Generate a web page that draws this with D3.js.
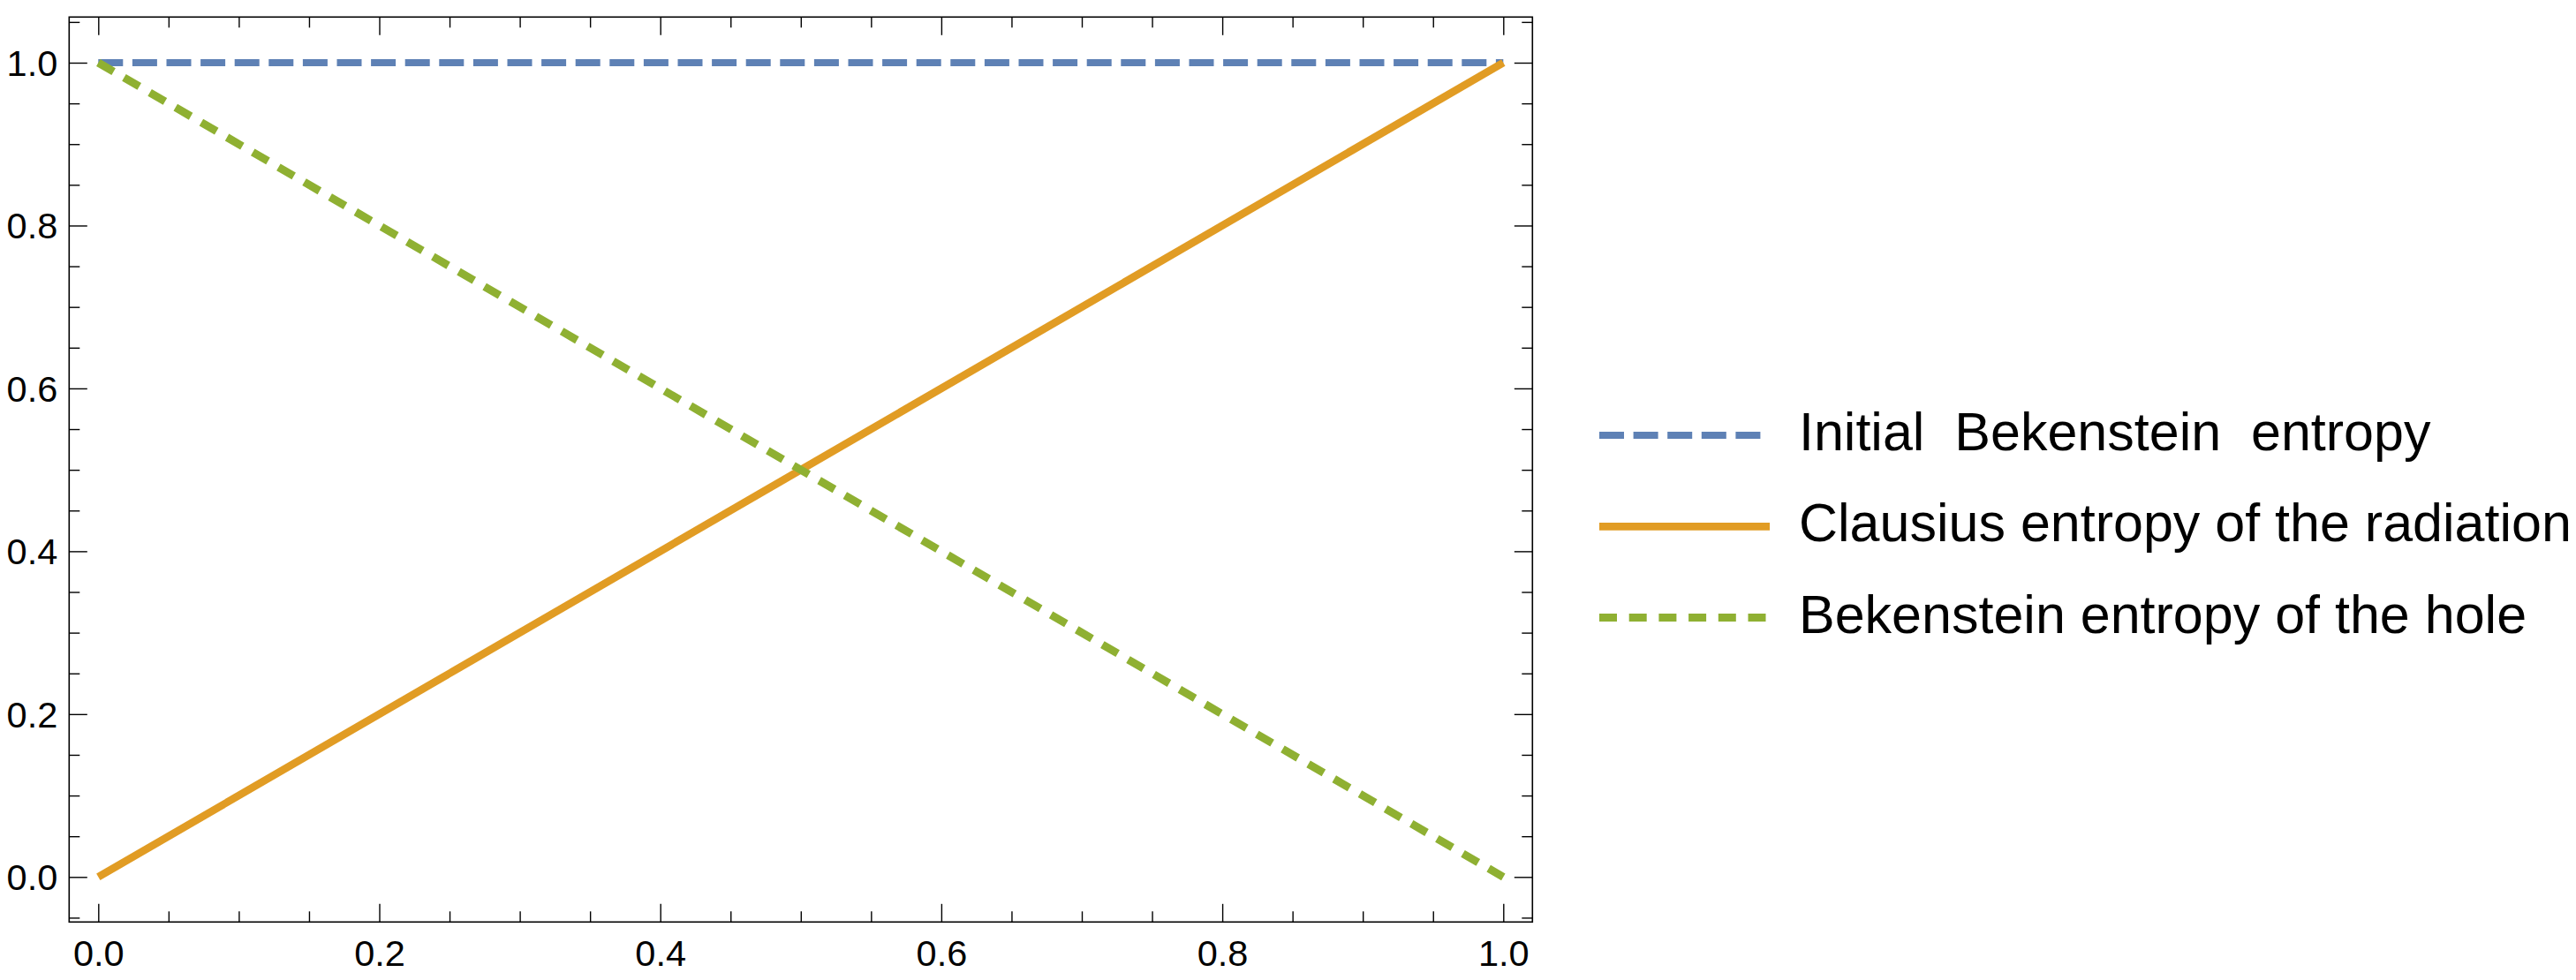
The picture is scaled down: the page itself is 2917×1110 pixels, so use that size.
<!DOCTYPE html>
<html>
<head>
<meta charset="utf-8">
<script src="https://cdn.jsdelivr.net/npm/d3@7"></script>
<style>
  html, body { margin: 0; padding: 0; background: #ffffff; }
  svg { display: block; }
  text { font-family: "Liberation Sans", Arial, sans-serif; fill: #000; }
  .legend-text { white-space: pre; }
</style>
</head>
<body>
<svg id="chart" width="2917" height="1110"></svg>
<script>
// ---- data ----
const xValues = [0, 1];
const initialBekenstein = [1, 1];
const clausiusRadiation = [0, 1];
const bekensteinHole = [1, 0];

const seriesNames = [
  "Initial  Bekenstein  entropy",
  "Clausius entropy of the radiation",
  "Bekenstein entropy of the hole"
];
const seriesColors = ["#5e81b5", "#e19c24", "#8fb032"];

const xTickValues = [0, 0.2, 0.4, 0.6, 0.8, 1.0];
const yTickValues = [0, 0.2, 0.4, 0.6, 0.8, 1.0];
const xTickLabels = ["0.0", "0.2", "0.4", "0.6", "0.8", "1.0"];
const yTickLabels = ["0.0", "0.2", "0.4", "0.6", "0.8", "1.0"];

// ---- layout ----
const W = 2917, H = 1110;
const frame = { left: 78.3, right: 1735.3, top: 19.3, bottom: 1044.3 };

const x = d3.scaleLinear().domain([0, 1]).range([111.3, 1702.3]);
const y = d3.scaleLinear().domain([0, 1]).range([993.3, 71]);

const svg = d3.select("#chart");
svg.append("rect").attr("width", W).attr("height", H).attr("fill", "#fff");

// minor tick values (every 0.05) inside the frame
function minorTicks(scale, lo, hi) {
  const out = [];
  for (let i = -4; i <= 24; i++) {
    const v = Math.round(i * 5) / 100;
    if (Math.abs(v * 10 - Math.round(v * 10)) < 1e-9 && Math.round(v * 10) % 2 === 0) continue;
    const p = scale(v);
    if (p > Math.min(lo, hi) + 0.5 && p < Math.max(lo, hi) - 0.5) out.push(v);
  }
  return out;
}
const xMinor = minorTicks(x, frame.left, frame.right);
const yMinor = minorTicks(y, frame.top, frame.bottom);

const majorLen = 20.5, minorLen = 12;
const tickStroke = 1.4;

function styleAxis(g) {
  g.select(".domain").remove();
  g.selectAll(".tick line").attr("stroke", "#000").attr("stroke-width", tickStroke);
}

// bottom
svg.append("g").attr("transform", `translate(0,${frame.bottom})`)
  .call(d3.axisBottom(x).tickValues(xTickValues).tickSize(-majorLen).tickPadding(20.7)
    .tickFormat((d, i) => xTickLabels[i]))
  .call(styleAxis)
  .call(g => g.selectAll("text").attr("font-size", 41.5).attr("font-family", null));
svg.append("g").attr("transform", `translate(0,${frame.bottom})`)
  .call(d3.axisBottom(x).tickValues(xMinor).tickSize(-minorLen).tickFormat(""))
  .call(styleAxis);
// top
svg.append("g").attr("transform", `translate(0,${frame.top})`)
  .call(d3.axisTop(x).tickValues(xTickValues).tickSize(-majorLen).tickFormat(""))
  .call(styleAxis);
svg.append("g").attr("transform", `translate(0,${frame.top})`)
  .call(d3.axisTop(x).tickValues(xMinor).tickSize(-minorLen).tickFormat(""))
  .call(styleAxis);
// left
svg.append("g").attr("transform", `translate(${frame.left},0)`)
  .call(d3.axisLeft(y).tickValues(yTickValues).tickSize(-majorLen).tickPadding(13)
    .tickFormat((d, i) => yTickLabels[i]))
  .call(styleAxis)
  .call(g => g.selectAll("text").attr("font-size", 41.5).attr("font-family", null).attr("dy", "0.35em"));
svg.append("g").attr("transform", `translate(${frame.left},0)`)
  .call(d3.axisLeft(y).tickValues(yMinor).tickSize(-minorLen).tickFormat(""))
  .call(styleAxis);
// right
svg.append("g").attr("transform", `translate(${frame.right},0)`)
  .call(d3.axisRight(y).tickValues(yTickValues).tickSize(-majorLen).tickFormat(""))
  .call(styleAxis);
svg.append("g").attr("transform", `translate(${frame.right},0)`)
  .call(d3.axisRight(y).tickValues(yMinor).tickSize(-minorLen).tickFormat(""))
  .call(styleAxis);

// frame
svg.append("rect")
  .attr("x", frame.left).attr("y", frame.top)
  .attr("width", frame.right - frame.left).attr("height", frame.bottom - frame.top)
  .attr("fill", "none").attr("stroke", "#000").attr("stroke-width", 1.6);

// ---- series ----
const series = [
  { name: seriesNames[0], values: initialBekenstein, color: seriesColors[0], width: 8, dash: "28,10.6" },
  { name: seriesNames[1], values: clausiusRadiation, color: seriesColors[1], width: 8.7, dash: null },
  { name: seriesNames[2], values: bekensteinHole, color: seriesColors[2], width: 9, dash: "20,13.7" }
];

const line = d3.line().x(d => x(d[0])).y(d => y(d[1]));

svg.append("g").selectAll("path").data(series).join("path")
  .attr("d", s => line(xValues.map((xv, i) => [xv, s.values[i]])))
  .attr("fill", "none")
  .attr("stroke", s => s.color)
  .attr("stroke-width", s => s.width)
  .attr("stroke-dasharray", s => s.dash);

// ---- legend ----
const legend = svg.append("g").attr("transform", "translate(1811,493)");
const rowGap = 103.3;
const items = legend.selectAll("g").data(series).join("g")
  .attr("transform", (d, i) => `translate(0,${i * rowGap})`);
items.append("line")
  .attr("x1", 0).attr("x2", 193).attr("y1", 0).attr("y2", 0)
  .attr("stroke", d => d.color)
  .attr("stroke-width", d => d.width)
  .attr("stroke-dasharray", d => d.dash);
items.append("text")
  .attr("class", "legend-text")
  .attr("x", 226).attr("y", 17)
  .attr("font-size", 61)
  .text(d => d.name);
</script>
</body>
</html>
